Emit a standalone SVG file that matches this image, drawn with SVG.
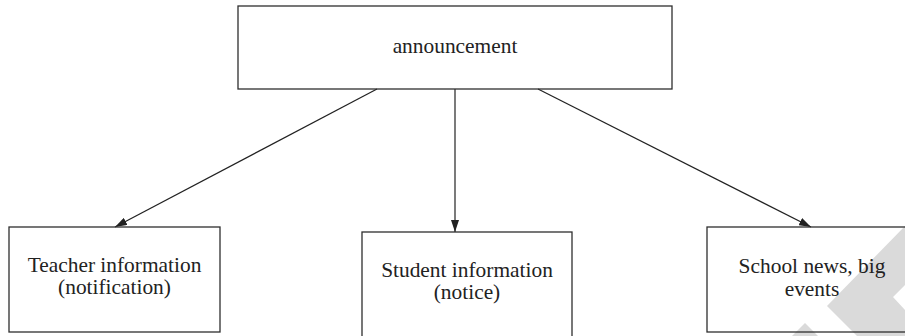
<svg xmlns="http://www.w3.org/2000/svg" width="905" height="336" viewBox="0 0 905 336">
<style>
.box{fill:none;stroke:#2e2e2e;stroke-width:1.3}
.lbl{font-family:"Liberation Serif","Times New Roman",serif;font-size:21.4px;fill:#222;text-anchor:middle}
.con{stroke:#222;stroke-width:1.2;fill:none;marker-end:url(#arr)}
.wm{fill:#dadada}
</style>
<defs>
<marker id="arr" viewBox="0 0 12 8" refX="12" refY="4" markerWidth="12" markerHeight="8" markerUnits="userSpaceOnUse" orient="auto">
<path d="M0,0 L12,4 L0,8 Z" fill="#222"/>
</marker>
</defs>
<g id="watermark">
<polygon class="wm" points="905,226 827,306 857,336 905,336 905,310 893,297 905,285"/>
<polygon class="wm" points="805,323 818,336 792,336"/>
</g>
<g id="connectors">
<line class="con" x1="377" y1="89" x2="115" y2="227"/>
<line class="con" x1="455" y1="89" x2="455" y2="232"/>
<line class="con" x1="538" y1="89" x2="811" y2="227"/>
</g>
<g id="announcement">
<rect class="box" x="238" y="6" width="434" height="83"/>
<text class="lbl" x="455" y="53">announcement</text>
</g>
<g id="teacher">
<rect class="box" x="9" y="227" width="211" height="105"/>
<text class="lbl" x="114.5" y="272">Teacher information</text>
<text class="lbl" x="114.5" y="294">(notification)</text>
</g>
<g id="student">
<rect class="box" x="362" y="232" width="210" height="110"/>
<text class="lbl" x="467" y="277">Student information</text>
<text class="lbl" x="467" y="299">(notice)</text>
</g>
<g id="school">
<rect class="box" x="707" y="227" width="211" height="105"/>
<text class="lbl" x="812" y="273">School news, big</text>
<text class="lbl" x="812" y="296">events</text>
</g>
</svg>
